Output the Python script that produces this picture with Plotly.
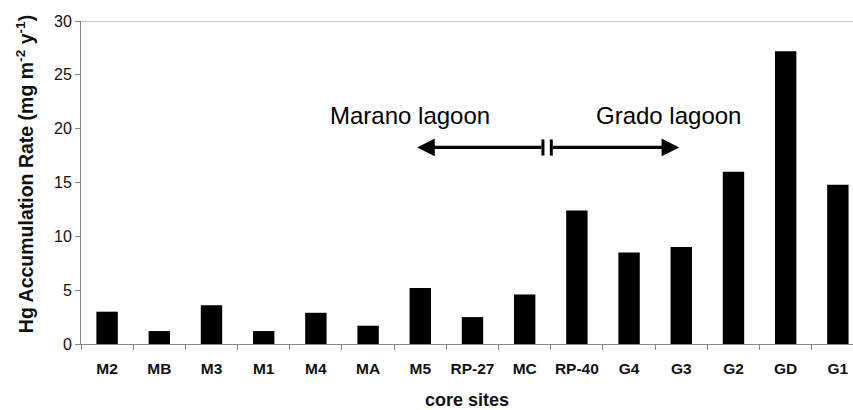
import plotly.graph_objects as go

# Core sites and their Hg accumulation rates (mg m-2 y-1)
sites = ["M2", "MB", "M3", "M1", "M4", "MA", "M5", "RP-27", "MC",
         "RP-40", "G4", "G3", "G2", "GD", "G1"]
hg_rate = [3.0, 1.2, 3.6, 1.2, 2.9, 1.7, 5.2, 2.5, 4.6,
           12.4, 8.5, 9.0, 16.0, 27.2, 14.8]

y_ticks = [0, 5, 10, 15, 20, 25, 30]

FONT = "Liberation Sans, Arial, Helvetica, sans-serif"
AXIS_GREY = "#858585"

fig = go.Figure(
    go.Bar(
        x=sites,
        y=hg_rate,
        marker=dict(color="black", line=dict(width=0)),
        width=0.41,
    )
)

# Lagoon indicator: arrows pointing away from a double-bar break
arrow_y = 18.26
fig.add_annotation(
    x=5.94, y=arrow_y, ax=8.35, ay=arrow_y,
    xref="x", yref="y", axref="x", ayref="y",
    showarrow=True, arrowhead=2, arrowsize=1.1, arrowwidth=3.2,
    arrowcolor="black", text="",
)
fig.add_annotation(
    x=10.96, y=arrow_y, ax=8.51, ay=arrow_y,
    xref="x", yref="y", axref="x", ayref="y",
    showarrow=True, arrowhead=2, arrowsize=1.1, arrowwidth=3.2,
    arrowcolor="black", text="",
)
for bx in (8.35, 8.51):
    fig.add_shape(type="line", xref="x", yref="y",
                  x0=bx, x1=bx, y0=17.5, y1=19.0,
                  line=dict(color="black", width=3))

fig.add_annotation(x=5.80, y=21.2, xref="x", yref="y", text="Marano lagoon",
                   showarrow=False, font=dict(family=FONT, size=24, color="black"))
fig.add_annotation(x=10.75, y=21.2, xref="x", yref="y", text="Grado lagoon",
                   showarrow=False, font=dict(family=FONT, size=24, color="black"))

# Axis titles
fig.add_annotation(
    x=-0.0725, y=0.526, xref="paper", yref="paper",
    text="<b>Hg Accumulation Rate (mg m<sup>-2</sup> y<sup>-1</sup>)</b>",
    textangle=-90, showarrow=False, xanchor="center", yanchor="middle",
    font=dict(family=FONT, size=19.5, color="#111111"),
)
fig.add_annotation(
    x=0.5006, y=-0.137, xref="paper", yref="paper",
    text="<b>core sites</b>", showarrow=False, xanchor="center", yanchor="top",
    font=dict(family=FONT, size=18, color="#111111"),
)

# Top border line at the axis maximum
fig.add_shape(type="line", xref="paper", yref="y", x0=0, x1=1, y0=30, y1=30,
              line=dict(color=AXIS_GREY, width=1))

fig.update_layout(
    width=853, height=410,
    margin=dict(l=81, r=0, t=20.7, b=65.7),
    paper_bgcolor="white", plot_bgcolor="white",
    showlegend=False,
    font=dict(family=FONT, color="#111111"),
    xaxis=dict(
        type="category",
        range=[-0.5, 14.29],
        showline=True, linecolor=AXIS_GREY, linewidth=1,
        ticks="outside", tickson="boundaries", ticklen=5, tickcolor=AXIS_GREY,
        tickangle=0,
        tickfont=dict(family=FONT, size=15.5, color="#111111", weight="bold"),
        ticklabelstandoff=10,
        showgrid=False, zeroline=False,
    ),
    yaxis=dict(
        range=[0, 30],
        tickvals=y_ticks,
        showline=True, linecolor=AXIS_GREY, linewidth=1,
        ticks="outside", ticklen=5, tickcolor=AXIS_GREY,
        tickfont=dict(family=FONT, size=16, color="#111111"),
        showgrid=False, zeroline=False,
    ),
)

fig.write_html("out.html")
